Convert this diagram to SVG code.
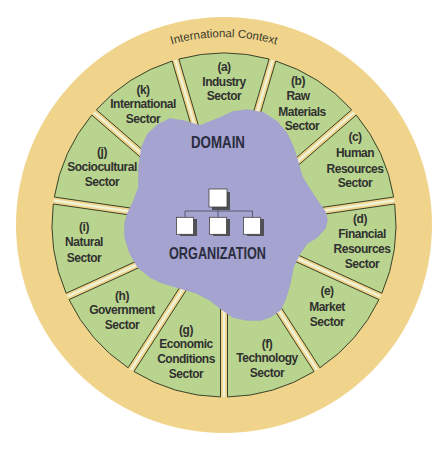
<svg xmlns="http://www.w3.org/2000/svg" width="442" height="454" viewBox="0 0 442 454">
<style>
.wedge{fill:#b9d48e;stroke:#3b4128;stroke-width:1}
.gap{stroke:#eef2d6;stroke-width:2.5}
.lbl{font-family:"Liberation Sans",Arial,sans-serif;font-weight:bold;font-size:12px;letter-spacing:-0.5px;fill:#303030;text-anchor:middle}
.big{font-family:"Liberation Sans",Arial,sans-serif;font-weight:bold;font-size:17px;fill:#2b2d40;text-anchor:middle}
.ctx{font-family:"Liberation Sans",Arial,sans-serif;font-size:11.5px;fill:#3a3a2a;text-anchor:middle}
.box{fill:#ffffff;stroke:#444;stroke-width:0.8}
.shd{fill:#4f4f55}
.conn{fill:none;stroke:#555a70;stroke-width:1}
</style>
<defs>
<path id="ctxArc" d="M36,225 A188,188 0 0 1 412,225"/>
</defs>
<rect width="442" height="454" fill="#ffffff"/>
<circle cx="224" cy="225" r="208" fill="#f0d48c"/>
<g id="gaps">
<line class="gap" x1="224" y1="225" x2="175.5" y2="60"/>
<line class="gap" x1="224" y1="225" x2="272.5" y2="60"/>
<line class="gap" x1="224" y1="225" x2="354" y2="112.4"/>
<line class="gap" x1="224" y1="225" x2="394.2" y2="200.5"/>
<line class="gap" x1="224" y1="225" x2="380.4" y2="296.4"/>
<line class="gap" x1="224" y1="225" x2="317" y2="369.7"/>
<line class="gap" x1="224" y1="225" x2="224" y2="397"/>
<line class="gap" x1="224" y1="225" x2="131" y2="369.7"/>
<line class="gap" x1="224" y1="225" x2="67.6" y2="296.4"/>
<line class="gap" x1="224" y1="225" x2="53.8" y2="200.5"/>
<line class="gap" x1="224" y1="225" x2="94" y2="112.4"/>
</g>
<g id="sector-a"><path class="wedge" d="M224,212.58 L178.91,59.02 A172,172 0 0 1 269.09,59.02 Z"/>
<text class="lbl" x="224" y="71">(a)</text><text class="lbl" x="224" y="85.5">Industry</text><text class="lbl" x="224" y="100">Sector</text></g>
<g id="sector-b"><path class="wedge" d="M230.71,214.55 L275.81,60.99 A172,172 0 0 1 351.67,109.75 Z"/>
<text class="lbl" x="298" y="85">(b)</text><text class="lbl" x="298" y="100">Raw</text><text class="lbl" x="302" y="115.5">Materials</text><text class="lbl" x="302" y="130">Sector</text></g>
<g id="sector-c"><path class="wedge" d="M235.3,219.84 L356.25,115.04 A172,172 0 0 1 393.71,197.06 Z"/>
<text class="lbl" x="355" y="141">(c)</text><text class="lbl" x="355" y="157">Human</text><text class="lbl" x="355" y="172.5">Resources</text><text class="lbl" x="355" y="187">Sector</text></g>
<g id="sector-d"><path class="wedge" d="M236.29,226.77 L394.71,203.99 A172,172 0 0 1 381.87,293.25 Z"/>
<text class="lbl" x="360" y="223">(d)</text><text class="lbl" x="362" y="238">Financial</text><text class="lbl" x="362" y="253">Resources</text><text class="lbl" x="362" y="268">Sector</text></g>
<g id="sector-e"><path class="wedge" d="M233.39,233.13 L378.97,299.62 A172,172 0 0 1 319.91,367.77 Z"/>
<text class="lbl" x="327" y="295">(e)</text><text class="lbl" x="327" y="310.5">Market</text><text class="lbl" x="327" y="326">Sector</text></g>
<g id="sector-f"><path class="wedge" d="M227.5,236.92 L314.02,371.56 A172,172 0 0 1 227.5,396.96 Z"/>
<text class="lbl" x="267" y="348">(f)</text><text class="lbl" x="267" y="362">Technology</text><text class="lbl" x="267" y="377">Sector</text></g>
<g id="sector-g"><path class="wedge" d="M220.5,236.92 L220.5,396.96 A172,172 0 0 1 133.98,371.56 Z"/>
<text class="lbl" x="186" y="334">(g)</text><text class="lbl" x="186" y="348">Economic</text><text class="lbl" x="186" y="363">Conditions</text><text class="lbl" x="186" y="378">Sector</text></g>
<g id="sector-h"><path class="wedge" d="M214.61,233.13 L128.09,367.77 A172,172 0 0 1 69.03,299.62 Z"/>
<text class="lbl" x="122" y="299.5">(h)</text><text class="lbl" x="122" y="314">Government</text><text class="lbl" x="122" y="329">Sector</text></g>
<g id="sector-i"><path class="wedge" d="M211.71,226.77 L66.13,293.25 A172,172 0 0 1 53.29,203.99 Z"/>
<text class="lbl" x="84" y="231">(i)</text><text class="lbl" x="84" y="246">Natural</text><text class="lbl" x="84" y="262">Sector</text></g>
<g id="sector-j"><path class="wedge" d="M212.7,219.84 L54.29,197.06 A172,172 0 0 1 91.75,115.04 Z"/>
<text class="lbl" x="102" y="156">(j)</text><text class="lbl" x="102" y="170.5">Sociocultural</text><text class="lbl" x="102" y="186">Sector</text></g>
<g id="sector-k"><path class="wedge" d="M217.29,214.55 L96.33,109.75 A172,172 0 0 1 172.19,60.99 Z"/>
<text class="lbl" x="143" y="94">(k)</text><text class="lbl" x="143" y="108">International</text><text class="lbl" x="143" y="123">Sector</text></g>
<g id="context"><text class="ctx"><textPath href="#ctxArc" startOffset="50%">International Context</textPath></text></g>
<g id="domain">
<polygon fill="#a5a3cf" stroke="#a5a3cf" stroke-width="1.5" stroke-linejoin="round" points="133,203 139,187 139,167 142,147 148,134 158,125 170,119 183,121 200,126 220,118 233,112 247,110 263,113 277,122 287,134 293,147 298,163 302,177 310,190 318,202 325,212 327,220 325,228 317,237 307,243 300,253 293,267 290,283 285,300 280,310 270,317 260,320 247,320 233,317 223,310 210,300 197,293 187,290 177,287 163,283 150,277 138,267 130,253 125,237 125,223 128,213"/>
<text class="big" x="218" y="147.5" font-size="16" textLength="54" lengthAdjust="spacingAndGlyphs">DOMAIN</text>
</g>
<g id="organization">
<g id="connectors">
<path class="conn" d="M218,207 V211 M185,217 V211 H252.5 V217 M218,211 V217"/>
</g>
<rect class="shd" x="212" y="192" width="18" height="18"/>
<rect class="box" x="209" y="189" width="18" height="18"/>
<rect class="shd" x="180" y="219" width="17" height="17"/>
<rect class="box" x="176.5" y="217.3" width="17" height="17"/>
<rect class="shd" x="213" y="219" width="17" height="17"/>
<rect class="box" x="209.5" y="217.3" width="17" height="17"/>
<rect class="shd" x="247" y="219" width="17" height="17"/>
<rect class="box" x="243.5" y="217.3" width="17" height="17"/>
<text class="big" x="217.5" y="259" textLength="97" lengthAdjust="spacingAndGlyphs">ORGANIZATION</text>
</g>
</svg>
